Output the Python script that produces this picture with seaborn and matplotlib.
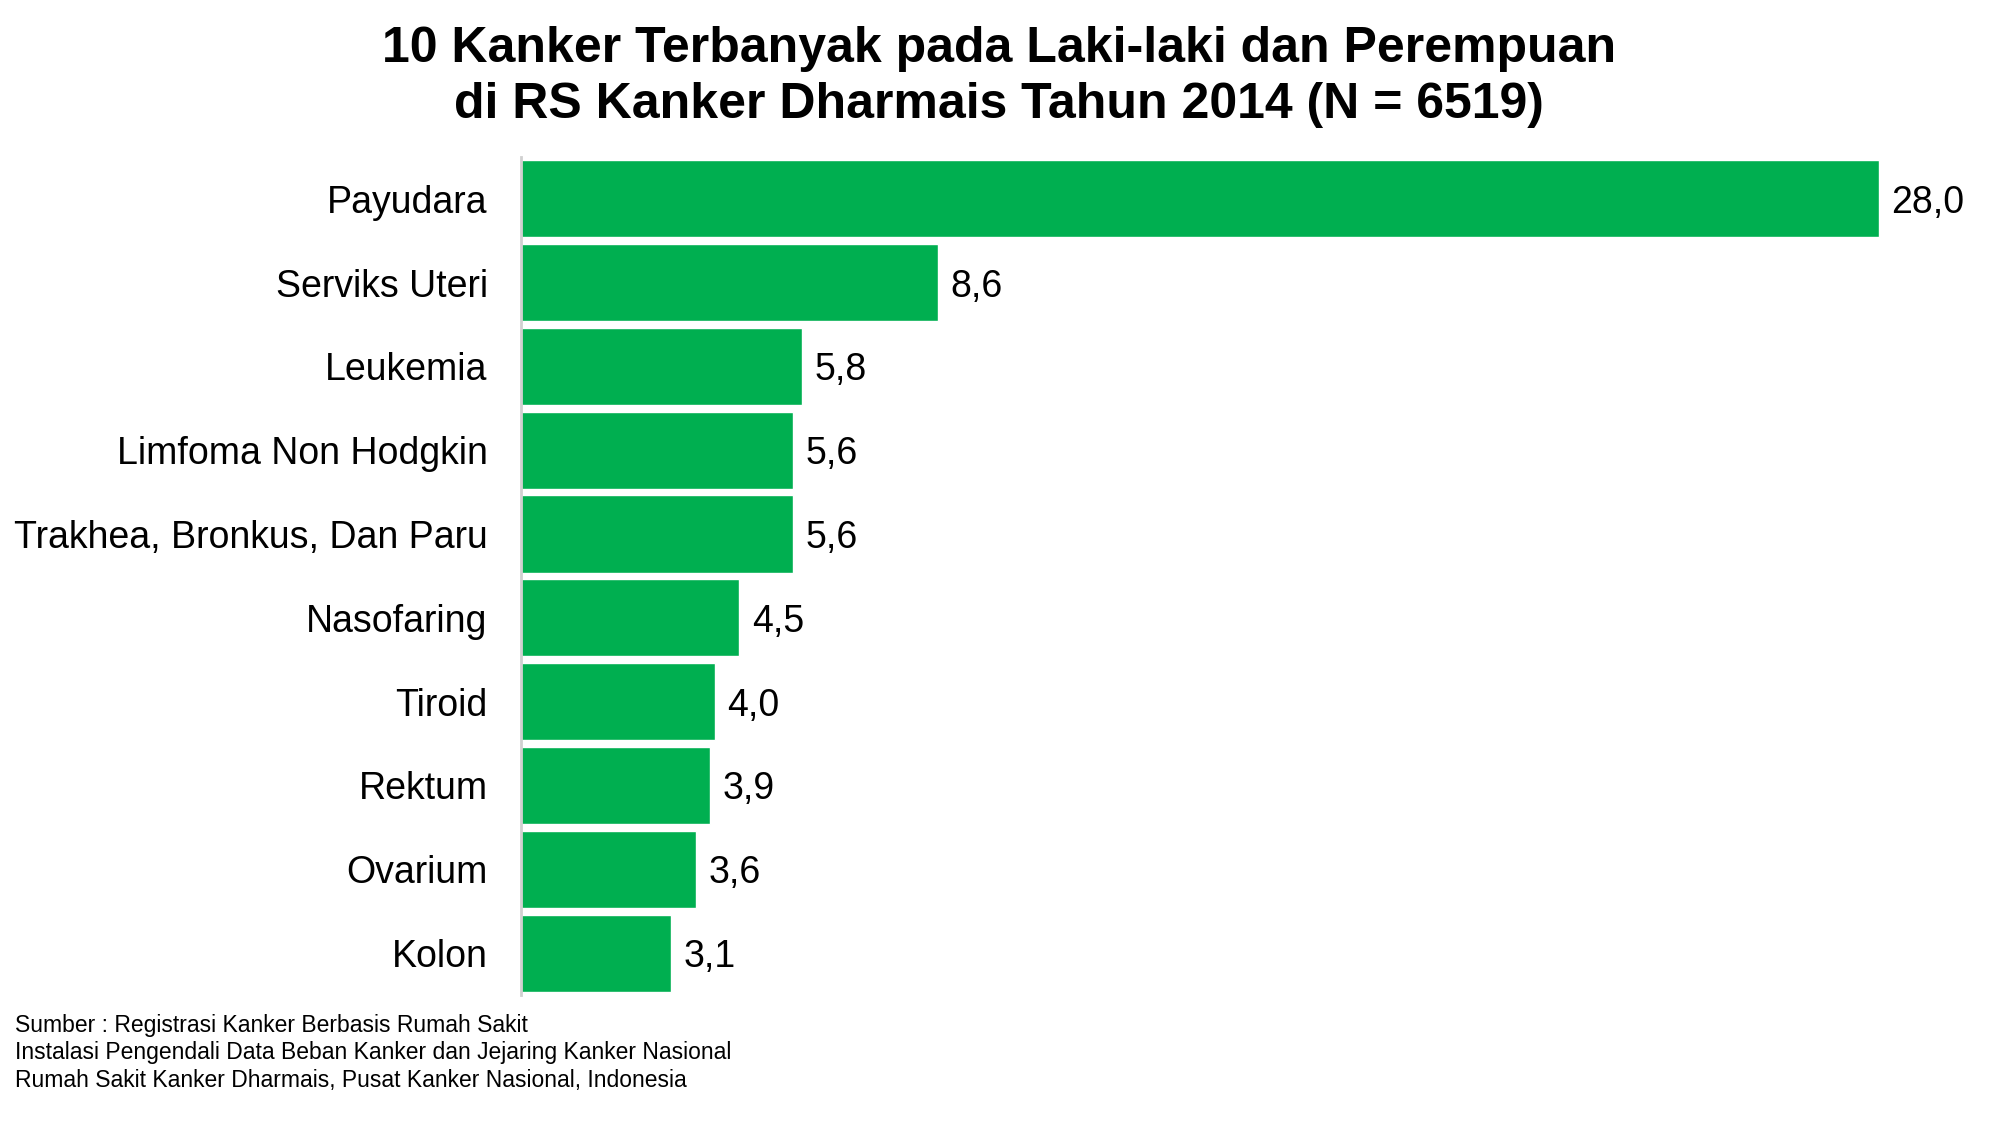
import matplotlib
matplotlib.use("Agg")
import matplotlib.pyplot as plt
import seaborn as sns
import pandas as pd

# data
kanker = ['Payudara', 'Serviks Uteri', 'Leukemia', 'Limfoma Non Hodgkin',
          'Trakhea, Bronkus, Dan Paru', 'Nasofaring', 'Tiroid', 'Rektum',
          'Ovarium', 'Kolon']
persen = [28.0, 8.6, 5.8, 5.6, 5.6, 4.5, 4.0, 3.9, 3.6, 3.1]

df = pd.DataFrame({'kanker': kanker, 'persen': persen})

sns.set_style('white')
plt.rcParams['font.family'] = ['Liberation Sans', 'DejaVu Sans']
plt.rcParams['text.color'] = 'black'
plt.rcParams['ytick.color'] = 'black'

fig = plt.figure(figsize=(20, 11.25), dpi=100)
ax = fig.add_axes([0.2605, 0.1156, 0.7195, 0.7449])

sns.barplot(data=df, x='persen', y='kanker', color='#00AF50', saturation=1,
            width=0.92, ax=ax)

ax.set_xlim(0, 29.67)
ax.set_ylim(9.5, -0.5)
ax.set_xlabel('')
ax.set_ylabel('')
ax.set_xticks([])
ax.tick_params(axis='y', length=0, pad=24, labelsize=27, labelcolor='black')
for s in ['top', 'right', 'bottom']:
    ax.spines[s].set_visible(False)
ax.spines['left'].set_color('#d0d0d0')
ax.spines['left'].set_linewidth(2)

# value labels with comma decimal
for i, v in enumerate(persen):
    ax.annotate(f'{v:.1f}'.replace('.', ','), (v, i), xytext=(9, 0),
                textcoords='offset points', va='center_baseline', ha='left',
                fontsize=27, clip_on=False)

fig.text(0.4995, 0.9765, '10 Kanker Terbanyak pada Laki-laki dan Perempuan\n'
         'di RS Kanker Dharmais Tahun 2014 (N = 6519)',
         ha='center', va='top', fontsize=36, fontweight='bold',
         linespacing=1.27)

fig.text(0.0075, 0.0987, 'Sumber : Registrasi Kanker Berbasis Rumah Sakit\n'
         'Instalasi Pengendali Data Beban Kanker dan Jejaring Kanker Nasional\n'
         'Rumah Sakit Kanker Dharmais, Pusat Kanker Nasional, Indonesia',
         ha='left', va='top', fontsize=16.5, linespacing=1.25)

fig.savefig('out.png', dpi=100)
